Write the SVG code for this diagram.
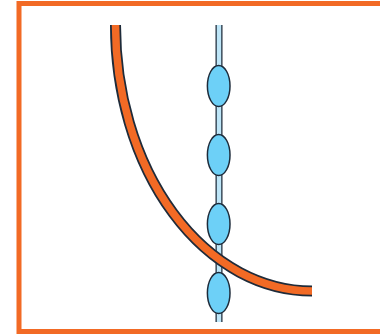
<svg xmlns="http://www.w3.org/2000/svg" width="380" height="334" viewBox="0 0 380 334">
<style>
.frame{fill:none;stroke:#F26A25;stroke-width:5}
.outline{fill:none;stroke:#1E2B3A}
.fiber{fill:none;stroke:#F26A25}
.axon{fill:none;stroke:#BEE6F8}
.node{fill:#6DD0F7;stroke:#1E2B3A;stroke-width:1.5}
</style>
<rect width="380" height="334" fill="#FFFFFF"/>
<rect class="frame" x="19" y="3.5" width="400" height="328"/>
<g id="connectors">
<g id="chain">
<line class="outline" x1="219" y1="25" x2="219" y2="322" stroke-width="7"/>
<line class="axon" x1="219" y1="25" x2="219" y2="322" stroke-width="4.5"/>
</g>
<g id="curve">
<path class="outline" d="M115.5,25 A196.5,266 0 0 0 312,291" stroke-width="11"/>
<path class="fiber" d="M115.5,25 A196.5,266 0 0 0 312,291" stroke-width="7.5"/>
</g>
</g>
<g id="node1"><ellipse class="node" cx="218.7" cy="86" rx="11.3" ry="20.5"/></g>
<g id="node2"><ellipse class="node" cx="218.7" cy="155" rx="11.3" ry="20.5"/></g>
<g id="node3"><ellipse class="node" cx="218.7" cy="224" rx="11.3" ry="20.5"/></g>
<g id="node4"><ellipse class="node" cx="218.7" cy="293" rx="11.3" ry="20.5"/></g>
</svg>
